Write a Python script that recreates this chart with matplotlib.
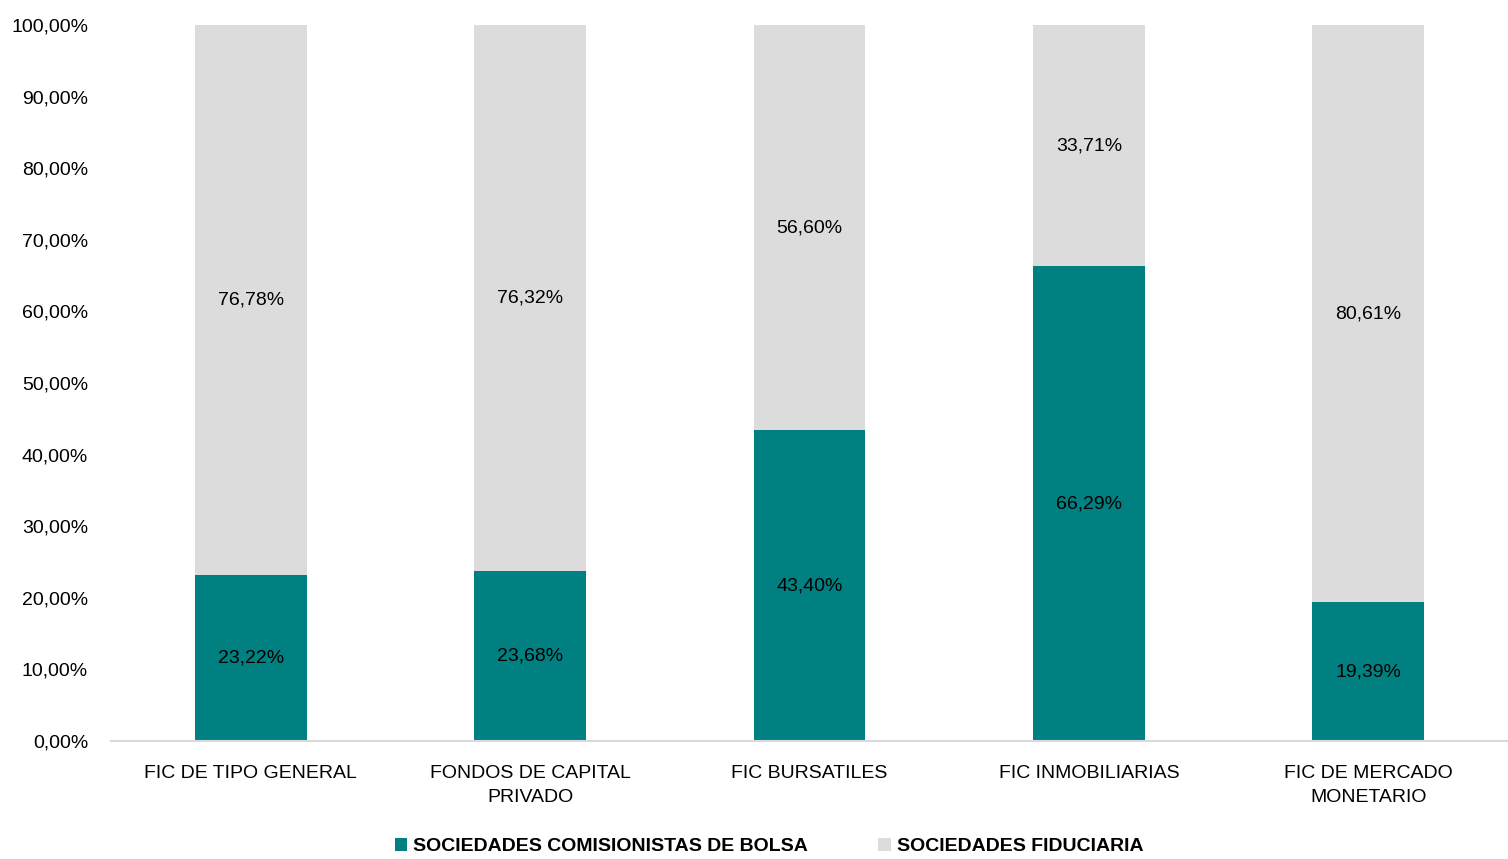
import matplotlib.pyplot as plt
from matplotlib.patches import Patch
from matplotlib.ticker import FuncFormatter
from matplotlib import font_manager

categorias = ['FIC DE TIPO GENERAL', 'FONDOS DE CAPITAL\nPRIVADO', 'FIC BURSATILES',
              'FIC INMOBILIARIAS', 'FIC DE MERCADO\nMONETARIO']
comisionistas = [23.22, 23.68, 43.40, 66.29, 19.39]
fiduciarias = [76.78, 76.32, 56.60, 33.71, 80.61]
series = ['SOCIEDADES COMISIONISTAS DE BOLSA', 'SOCIEDADES FIDUCIARIA']

nombres = {f.name for f in font_manager.fontManager.ttflist}
fuente = 'Liberation Sans Narrow' if 'Liberation Sans Narrow' in nombres else 'Liberation Sans'
plt.rcParams['font.family'] = [fuente, 'DejaVu Sans']

verde = '#008080'
gris = '#DCDCDC'
tam = 14

fig = plt.figure(figsize=(15.08, 8.59), dpi=100)
ax = fig.add_axes([0.0736, 0.1374, 0.9264, 0.8335])

x = range(len(categorias))
ax.bar(x, comisionistas, width=0.4, color=verde)
ax.bar(x, fiduciarias, width=0.4, bottom=comisionistas, color=gris)

def fmt(v):
    return f'{v:.2f}%'.replace('.', ',')

for i in x:
    ax.text(i, comisionistas[i] / 2, fmt(comisionistas[i]), ha='center', va='center', fontsize=tam)
    ax.text(i, comisionistas[i] + fiduciarias[i] / 2, fmt(fiduciarias[i]), ha='center', va='center', fontsize=tam)

ax.set_xlim(-0.5, len(categorias) - 0.5)
ax.set_ylim(0, 100)
ax.set_yticks(range(0, 101, 10))
ax.yaxis.set_major_formatter(FuncFormatter(lambda v, p: fmt(v)))
ax.set_xticks(list(x))
ax.set_xticklabels(categorias, fontsize=tam, linespacing=1.6)
ax.tick_params(axis='y', labelsize=tam, length=0, pad=16.5)
ax.tick_params(axis='x', length=0, pad=17)
for s in ['top', 'right', 'left']:
    ax.spines[s].set_visible(False)
ax.spines['bottom'].set_color('#D9D9D9')
ax.spines['bottom'].set_linewidth(1.5)

handles = [Patch(facecolor=verde, label=series[0]), Patch(facecolor=gris, label=series[1])]
fig.legend(handles=handles, loc='lower center', bbox_to_anchor=(0.51, -0.016), ncol=2,
           frameon=False, handlelength=0.65, handleheight=0.65, handletextpad=0.3,
           columnspacing=3.6, prop={'family': [fuente, 'DejaVu Sans'], 'weight': 'bold', 'size': tam})

fig.savefig('out.png', dpi=100)
